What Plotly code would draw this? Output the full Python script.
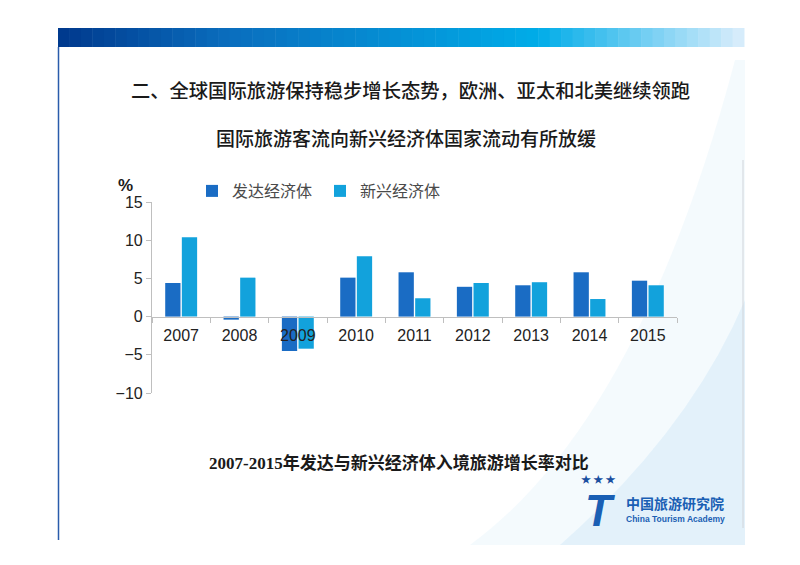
"""二、全球国际旅游保持稳步增长态势 — 发达与新兴经济体入境旅游增长率对比."""

import plotly.graph_objects as go

years = ["2007", "2008", "2009", "2010", "2011", "2012", "2013", "2014", "2015"]
developed = [4.4, -0.4, -4.5, 5.1, 5.8, 3.9, 4.1, 5.8, 4.7]
emerging = [10.4, 5.1, -4.2, 7.9, 2.4, 4.4, 4.5, 2.3, 4.1]
y_ticks = [-10, -5, 0, 5, 10, 15]

# plot area in page pixels; the page body has an 8px margin
OFF = 8
LEFT, RIGHT, TOP, BOTTOM = 152, 677, 202, 393
W, H = 800 - 2 * OFF, 565 - 2 * OFF


def px(x, y):
    """Page pixel -> paper coordinates."""
    return (x - LEFT) / (RIGHT - LEFT), (BOTTOM - y) / (BOTTOM - TOP)


def mix(c1, c2, t):
    return "rgb(%d,%d,%d)" % tuple(round(a + (b - a) * t) for a, b in zip(c1, c2))


fig = go.Figure()
fig.add_bar(x=years, y=developed, name="发达经济体", marker_color="#1a6cc4",
            marker_line_width=0)
fig.add_bar(x=years, y=emerging, name="新兴经济体", marker_color="#12a2dc",
            marker_line_width=0)

shapes = []

# decorative light-blue swoosh lower right
sw = [px(470, 545), px(640, 420), px(735, 60), px(745, 60), px(745, 545)]
path = "M %f,%f Q %f,%f %f,%f L %f,%f L %f,%f Z" % (
    sw[0][0], sw[0][1], sw[1][0], sw[1][1], sw[2][0], sw[2][1],
    sw[3][0], sw[3][1], sw[4][0], sw[4][1])
shapes.append(dict(type="path", xref="paper", yref="paper", path=path,
                   fillcolor="rgba(205,230,248,0.22)", line_width=0,
                   layer="below"))
sw2 = [px(560, 545), px(690, 430), px(745, 300), px(745, 545)]
path2 = "M %f,%f Q %f,%f %f,%f L %f,%f Z" % (
    sw2[0][0], sw2[0][1], sw2[1][0], sw2[1][1], sw2[2][0], sw2[2][1],
    sw2[3][0], sw2[3][1])
shapes.append(dict(type="path", xref="paper", yref="paper", path=path2,
                   fillcolor="rgba(190,222,245,0.3)", line_width=0,
                   layer="below"))

# gradient header band
stops = [(0.0, (0, 56, 140)), (0.25, (10, 110, 190)), (0.7, (0, 172, 232)),
         (1.0, (220, 238, 252))]
n = 60
x0, x1 = 58, 744
for i in range(n):
    t = (i + 0.5) / n
    for (a, ca), (b, cb) in zip(stops, stops[1:]):
        if a <= t <= b:
            col = mix(ca, cb, (t - a) / (b - a))
            break
    xa, ya = px(x0 + (x1 - x0) * i / n, 28)
    xb, yb = px(x0 + (x1 - x0) * (i + 1) / n + 0.5, 47)
    shapes.append(dict(type="rect", xref="paper", yref="paper", x0=xa, x1=xb,
                       y0=yb, y1=ya, fillcolor=col, line_width=0,
                       layer="below"))

# left frame line and right thin line
a, b = px(58.5, 47), px(58.5, 540)
shapes.append(dict(type="line", xref="paper", yref="paper", x0=a[0], x1=b[0],
                   y0=a[1], y1=b[1], line=dict(color="#2a5cab", width=1.5)))
a, b = px(743, 160), px(743, 528)
shapes.append(dict(type="line", xref="paper", yref="paper", x0=a[0], x1=b[0],
                   y0=a[1], y1=b[1], line=dict(color="#d0d4da", width=1)))

annotations = []


def note(text, x, y, size, color="#1a1a1a", family="Noto Sans CJK SC",
         xanchor="center", weight=None, **kw):
    ax, ay = px(x, y)
    font = dict(size=size, color=color, family=family)
    if weight:
        font["weight"] = weight
    annotations.append(dict(text=text, x=ax, y=ay, xref="paper", yref="paper",
                            showarrow=False, xanchor=xanchor, yanchor="middle",
                            font=font, **kw))


note("二、全球国际旅游保持稳步增长态势，欧洲、亚太和北美继续领跑", 410, 90, 19.3,
     weight=500)
note("国际旅游客流向新兴经济体国家流动有所放缓", 406, 137, 19, weight=500)
note("<b>2007-2015年发达与新兴经济体入境旅游增长率对比</b>", 399, 463, 17,
     family="Liberation Serif, Noto Sans CJK SC")
note("<b>%</b>", 125, 186, 17, family="Liberation Sans")

# logo
note("<b><i>T</i></b>", 600, 510, 44, color="#1a5fb4", family="Liberation Sans")
note("★ ★ ★", 598, 478, 10, color="#1a4fa0")
note("<b>中国旅游研究院</b>", 624, 503, 14, color="#1a5fb4", xanchor="left")
note("<b>China Tourism Academy</b>", 624, 519, 8.5, color="#1a5fb4",
     family="Liberation Sans", xanchor="left")

fig.update_layout(
    width=W,
    height=H,
    margin=dict(l=LEFT - OFF, r=W + OFF - RIGHT, t=TOP - OFF,
                b=H + OFF - BOTTOM),
    paper_bgcolor="white",
    plot_bgcolor="rgba(0,0,0,0)",
    barmode="group",
    bargap=0.43,
    bargroupgap=0.08,
    showlegend=True,
    legend=dict(orientation="h", x=px(192, 0)[0], y=px(0, 191)[1],
                xanchor="left", yanchor="middle", entrywidth=83,
                font=dict(size=16, color="#4a4a4a",
                          family="Noto Sans CJK SC"),
                bgcolor="rgba(0,0,0,0)", itemwidth=30),
    font=dict(family="Liberation Sans", size=16, color="#222222"),
    xaxis=dict(type="category", anchor="free", position=px(0, 317)[1],
               showline=True, linecolor="#bfbfbf", linewidth=1.2,
               ticks="outside", tickson="boundaries", ticklen=5,
               tickcolor="#bfbfbf", showgrid=False, zeroline=False,
               ticklabelstandoff=4,
               tickfont=dict(size=16, color="#222222")),
    yaxis=dict(range=[-10, 15], tickvals=y_ticks, showline=True,
               linecolor="#bfbfbf", linewidth=1.2, ticks="outside",
               ticklen=5, tickcolor="#bfbfbf", showgrid=False,
               zeroline=False, tickfont=dict(size=16, color="#222222")),
    shapes=shapes,
    annotations=annotations,
)

fig.write_html("out.html")
